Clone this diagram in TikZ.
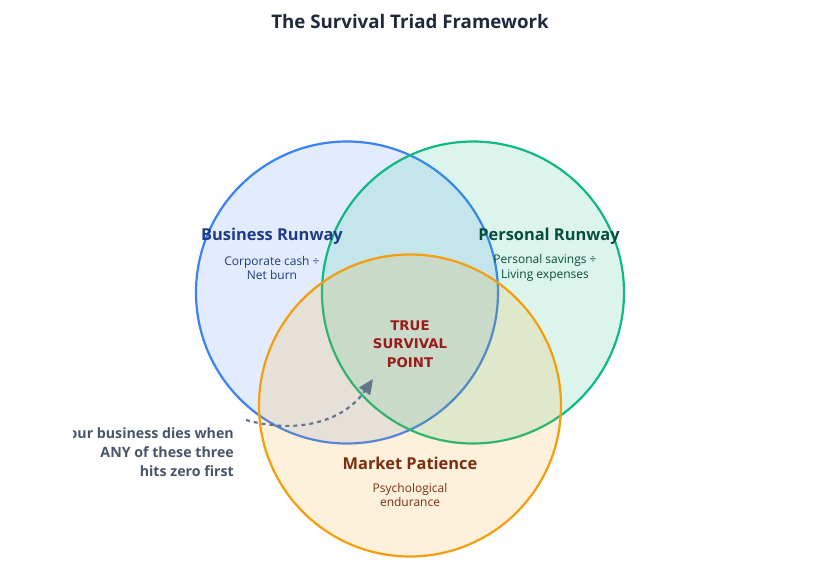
\documentclass[tikz,border=0pt]{standalone}
\usepackage{fontspec}
\setmainfont{Open Sans}
\newfontfamily\corefont{DejaVu Sans}
\usetikzlibrary{arrows.meta}
\definecolor{cblue}{HTML}{3B82F6}
\definecolor{cgreen}{HTML}{10B981}
\definecolor{corange}{HTML}{F59E0B}
\definecolor{tblue}{HTML}{1E3A8A}
\definecolor{tgreen}{HTML}{064E3B}
\definecolor{tbrown}{HTML}{7C2D12}
\definecolor{tred}{HTML}{991B1B}
\definecolor{tslate}{HTML}{475569}
\definecolor{tarrow}{HTML}{64748B}
\definecolor{ttitle}{HTML}{1E293B}
\tikzset{
  setcircle/.style={line width=2.2pt, draw=#1, fill=#1, fill opacity=0.15},
  headlbl/.style={font=\fontsize{16.4}{19}\selectfont\bfseries, inner sep=0pt},
  sublbl/.style={font=\fontsize{12}{14.5}\selectfont, align=center, inner sep=0pt},
  corelbl/.style={font=\corefont\fontsize{13.3}{18.5}\selectfont\bfseries, align=center, inner sep=0pt, text=tred},
  notelbl/.style={font=\fontsize{14.2}{19}\selectfont\bfseries, align=right, inner sep=0pt, text=tslate, anchor=east},
  flowarrow/.style={draw=tarrow, line width=2.2pt, dash pattern=on 4pt off 4pt, -{Triangle[length=15pt,width=13pt,fill=tarrow]}}
}
\begin{document}
\begin{tikzpicture}[x=1pt,y=-1pt]
\useasboundingbox (0,0) rectangle (815,564);
\node[font=\fontsize{18.7}{21}\selectfont\bfseries, text=ttitle, inner sep=0pt] (title) at (410,21) {The Survival Triad Framework};
\draw[setcircle=cblue] (347,292.5) circle[radius=151pt];
\draw[setcircle=cgreen] (473,292.5) circle[radius=151pt];
\draw[setcircle=corange] (410,405.5) circle[radius=151pt];
\node[headlbl, text=tblue] (bizh) at (272,236) {Business Runway};
\node[sublbl, text=tblue] (bizs) at (272,268) {Corporate cash ÷\\Net burn};
\node[headlbl, text=tgreen] (perh) at (549,236) {Personal Runway};
\node[sublbl, text=tgreen] (pers) at (545,268) {Personal savings ÷\\Living expenses};
\node[headlbl, text=tbrown] (mkth) at (410,463) {Market Patience};
\node[sublbl, text=tbrown] (mkts) at (410,495) {Psychological\\endurance};
\node[corelbl] (core) at (410,344) {TRUE\\SURVIVAL\\POINT};
\begin{scope}
\clip (73,400) rectangle (300,490);
\node[notelbl] (note) at (234,452) {Your business dies when\\ANY of these three\\hits zero first};
\end{scope}
\coordinate (arrs) at (246,420);
\coordinate (arre) at (373,379);
\draw[flowarrow] (arrs) .. controls (300,435) and (345,420) .. (arre);
\end{tikzpicture}
\end{document}
